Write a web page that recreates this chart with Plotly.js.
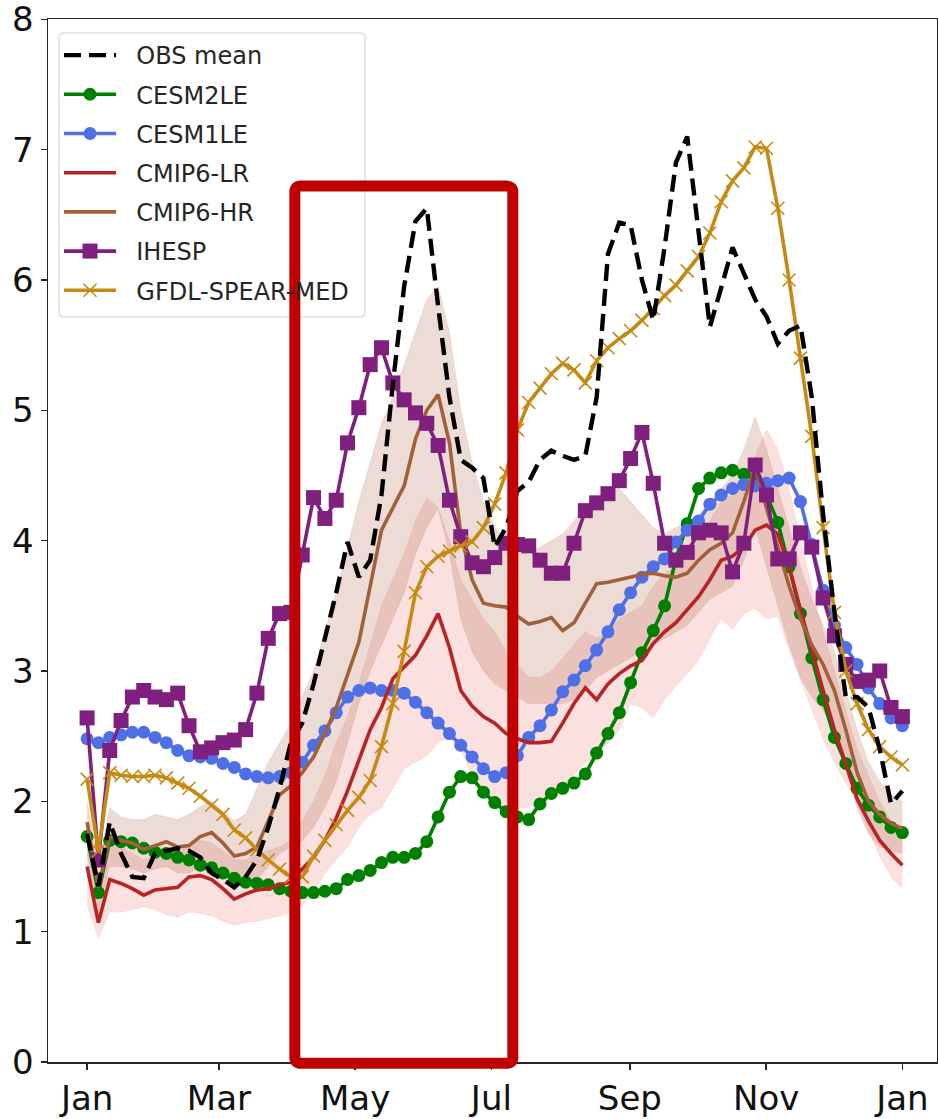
<!DOCTYPE html>
<html>
<head>
<meta charset="utf-8">
<script src="https://cdn.plot.ly/plotly-3.0.1.min.js"></script>
<style>
  html, body { margin: 0; padding: 0; background: #ffffff; }
  #chart { width: 938px; height: 1119px; }
</style>
</head>
<body>
<div id="chart"></div>
<script>
// Month ticks (day of year) and their labels
const monthTickDays = [0, 59, 120, 181, 243, 304, 365];
const monthTickLabels = ['Jan', 'Mar', 'May', 'Jul', 'Sep', 'Nov', 'Jan'];
const valueTicks = [0, 1, 2, 3, 4, 5, 6, 7, 8];

// Pentad climatologies, one value per pentad from Jan to Dec
const obsMean = [1.75, 1.35, 1.84, 1.60, 1.42, 1.41, 1.60, 1.62, 1.64, 1.62,
  1.57, 1.45, 1.40, 1.34, 1.42, 1.55, 1.80, 2.10, 2.45, 2.60,
  2.90, 3.25, 3.60, 3.99, 3.72, 3.85, 4.35, 5.20, 5.95, 6.45,
  6.55, 5.80, 5.10, 4.62, 4.56, 4.48, 3.95, 4.10, 4.38, 4.45,
  4.62, 4.69, 4.65, 4.62, 4.65, 5.10, 6.20, 6.44, 6.42, 6.00,
  5.69, 6.25, 6.90, 7.10, 6.36, 5.64, 5.94, 6.25, 6.05, 5.85,
  5.72, 5.51, 5.61, 5.65, 5.10, 4.20, 3.45, 2.80, 2.80, 2.72,
  2.40, 1.98, 2.08];

const cesm2le = [1.73, 1.30, 1.70, 1.69, 1.68, 1.64, 1.61, 1.60, 1.57, 1.55,
  1.51, 1.49, 1.45, 1.41, 1.38, 1.37, 1.36, 1.33, 1.31, 1.30,
  1.30, 1.31, 1.33, 1.40, 1.43, 1.47, 1.53, 1.57, 1.57, 1.60,
  1.69, 1.88, 2.07, 2.19, 2.18, 2.07, 1.99, 1.92, 1.88, 1.86,
  1.98, 2.06, 2.10, 2.14, 2.21, 2.37, 2.52, 2.68, 2.91, 3.14,
  3.31, 3.50, 3.86, 4.13, 4.40, 4.48, 4.52, 4.54, 4.51, 4.48,
  4.35, 4.14, 3.80, 3.44, 3.10, 2.78, 2.49, 2.29, 2.10, 1.97,
  1.88, 1.80, 1.76];

const cesm1le = [2.48, 2.45, 2.49, 2.51, 2.53, 2.53, 2.49, 2.45, 2.39, 2.35,
  2.34, 2.33, 2.29, 2.26, 2.21, 2.19, 2.18, 2.19, 2.22, 2.30,
  2.43, 2.54, 2.68, 2.80, 2.85, 2.87, 2.85, 2.85, 2.83, 2.76,
  2.68, 2.60, 2.52, 2.43, 2.34, 2.25, 2.19, 2.22, 2.35, 2.49,
  2.58, 2.70, 2.84, 2.93, 3.04, 3.16, 3.30, 3.47, 3.60, 3.72,
  3.80, 3.86, 3.99, 4.08, 4.15, 4.28, 4.35, 4.40, 4.43, 4.42,
  4.44, 4.46, 4.48, 4.30, 3.97, 3.62, 3.35, 3.18, 3.05, 2.87,
  2.75, 2.64, 2.58];

const cmip6Lr = [1.50, 1.07, 1.40, 1.37, 1.33, 1.28, 1.32, 1.33, 1.34, 1.42,
  1.43, 1.40, 1.33, 1.25, 1.29, 1.32, 1.33, 1.36, 1.38, 1.48,
  1.57, 1.70, 1.87, 2.08, 2.32, 2.55, 2.72, 2.94, 3.03, 3.12,
  3.27, 3.44, 3.18, 2.85, 2.73, 2.65, 2.60, 2.52, 2.48, 2.45,
  2.45, 2.46, 2.60, 2.75, 2.87, 2.78, 2.90, 2.98, 3.04, 3.08,
  3.21, 3.30, 3.37, 3.47, 3.57, 3.70, 3.85, 3.88, 3.95, 4.08,
  4.12, 4.05, 3.80, 3.47, 3.15, 2.85, 2.55, 2.28, 2.02, 1.85,
  1.70, 1.60, 1.51];

const cmip6LrLow = [1.20, 0.95, 1.15, 1.15, 1.17, 1.19, 1.17, 1.13, 1.11, 1.15,
  1.14, 1.12, 1.08, 1.05, 1.07, 1.08, 1.10, 1.12, 1.15, 1.20,
  1.30, 1.45, 1.55, 1.65, 1.80, 1.90, 1.95, 2.10, 2.25, 2.30,
  2.35, 2.45, 2.50, 2.40, 2.20, 2.05, 1.97, 1.92, 1.95, 1.95,
  2.00, 2.05, 2.10, 2.20, 2.30, 2.35, 2.45, 2.55, 2.75, 2.72,
  2.64, 2.78, 2.88, 2.98, 3.08, 3.25, 3.40, 3.32, 3.44, 3.48,
  3.40, 3.42, 3.16, 2.93, 2.70, 2.48, 2.30, 2.14, 1.98, 1.78,
  1.58, 1.42, 1.33];

const cmip6LrHigh = [1.80, 1.30, 1.70, 1.65, 1.60, 1.55, 1.58, 1.60, 1.60, 1.68,
  1.70, 1.68, 1.62, 1.55, 1.55, 1.60, 1.62, 1.65, 1.70, 1.85,
  2.00, 2.20, 2.45, 2.65, 2.90, 3.20, 3.50, 3.70, 3.90, 4.15,
  4.33, 4.25, 4.00, 3.70, 3.55, 3.40, 3.30, 3.15, 3.05, 2.95,
  2.95, 3.00, 3.10, 3.20, 3.30, 3.25, 3.30, 3.40, 3.45, 3.50,
  3.65, 3.75, 3.80, 3.90, 4.00, 4.15, 4.30, 4.35, 4.45, 4.65,
  4.85, 4.70, 4.40, 4.00, 3.65, 3.30, 3.00, 2.70, 2.40, 2.20,
  2.00, 1.85, 1.75];

const cmip6Hr = [1.84, 1.34, 1.73, 1.70, 1.68, 1.63, 1.66, 1.69, 1.65, 1.66,
  1.73, 1.76, 1.68, 1.58, 1.60, 1.65, 1.85, 2.05, 2.12, 2.22,
  2.34, 2.52, 2.72, 2.98, 3.22, 3.65, 4.08, 4.25, 4.42, 4.78,
  5.00, 5.12, 4.75, 4.05, 3.70, 3.52, 3.50, 3.49, 3.42, 3.36,
  3.38, 3.41, 3.31, 3.37, 3.52, 3.67, 3.68, 3.70, 3.72, 3.74,
  3.75, 3.73, 3.72, 3.75, 3.85, 3.93, 3.98, 4.06, 4.30, 4.56,
  4.25, 3.95, 3.65, 3.40, 3.20, 3.05, 2.85, 2.55, 2.22, 2.00,
  1.90, 1.83, 1.79];

const cmip6HrLow = [1.60, 1.15, 1.50, 1.50, 1.48, 1.45, 1.48, 1.50, 1.45, 1.45,
  1.50, 1.55, 1.45, 1.35, 1.35, 1.40, 1.50, 1.60, 1.65, 1.70,
  1.80, 1.95, 2.15, 2.45, 2.75, 3.00, 3.20, 3.40, 3.60, 3.90,
  4.10, 4.25, 3.90, 3.40, 3.15, 3.00, 2.90, 2.85, 2.80, 2.75,
  2.75, 2.75, 2.75, 2.78, 2.85, 2.95, 3.00, 3.05, 3.10, 3.15,
  3.20, 3.25, 3.30, 3.35, 3.45, 3.55, 3.60, 3.65, 3.85, 4.10,
  3.80, 3.50, 3.20, 2.95, 2.80, 2.70, 2.55, 2.30, 1.95, 1.75,
  1.65, 1.62, 1.60];

const cmip6HrHigh = [2.00, 1.50, 1.95, 1.88, 1.86, 1.86, 1.90, 1.88, 1.86, 1.90,
  1.96, 2.00, 1.92, 1.85, 1.90, 2.10, 2.30, 2.45, 2.60, 2.80,
  3.00, 3.30, 3.60, 3.95, 4.30, 4.60, 4.90, 5.10, 5.35, 5.60,
  5.85, 5.95, 5.60, 5.00, 4.60, 4.30, 4.10, 4.00, 3.95, 3.90,
  3.95, 4.00, 4.05, 4.15, 4.25, 4.30, 4.35, 4.40, 4.30, 4.20,
  4.10, 4.05, 4.10, 4.15, 4.20, 4.30, 4.40, 4.50, 4.70, 4.95,
  4.70, 4.40, 4.10, 3.80, 3.55, 3.35, 3.15, 2.85, 2.55, 2.30,
  2.15, 2.05, 2.00];

const ihesp = [2.64, 1.55, 2.39, 2.62, 2.80, 2.85, 2.80, 2.78, 2.83, 2.58,
  2.38, 2.41, 2.45, 2.47, 2.55, 2.83, 3.25, 3.44, 3.45, 3.89,
  4.33, 4.17, 4.31, 4.75, 5.02, 5.35, 5.48, 5.21, 5.08, 4.98,
  4.90, 4.73, 4.31, 4.03, 3.83, 3.80, 3.87, 3.98, 3.97, 3.96,
  3.85, 3.75, 3.75, 3.98, 4.23, 4.29, 4.36, 4.46, 4.63, 4.83,
  4.44, 3.98, 3.85, 3.91, 4.06, 4.08, 4.06, 3.76, 3.98, 4.58,
  4.35, 3.86, 3.86, 4.06, 3.95, 3.56, 3.27, 3.05, 2.92, 2.93,
  3.00, 2.72, 2.65];

const gfdlSpearMed = [2.17, 1.62, 2.22, 2.20, 2.19, 2.19, 2.20, 2.18, 2.14, 2.10,
  2.04, 1.97, 1.90, 1.78, 1.72, 1.63, 1.55, 1.48, 1.42, 1.42,
  1.58, 1.70, 1.82, 1.93, 2.03, 2.16, 2.42, 2.75, 3.15, 3.60,
  3.80, 3.88, 3.92, 3.96, 3.99, 4.10, 4.28, 4.52, 4.85, 5.06,
  5.17, 5.28, 5.36, 5.31, 5.21, 5.38, 5.48, 5.55, 5.61, 5.69,
  5.78, 5.88, 5.96, 6.07, 6.18, 6.36, 6.60, 6.76, 6.86, 7.02,
  7.01, 6.55, 6.00, 5.40, 4.80, 4.10, 3.45, 3.00, 2.75, 2.55,
  2.42, 2.34, 2.28];

// Pentads are spread evenly over the year
const nPentads = obsMean.length;
const dayOfYear = obsMean.map((_, i) => i * 365 / (nPentads - 1));

const FONT = 'DejaVu Sans, Liberation Sans, sans-serif';
const X_RANGE = [-17.5, 380.5];
const Y_RANGE = [0, 8.002];
const PLOT_W = 889, PLOT_H = 1043;
const NB = '\u00a0\u00a0';

function band(low, high, fill, name) {
  return [
    { x: dayOfYear, y: low, type: 'scatter', mode: 'lines',
      line: { width: 0.6, color: fill }, showlegend: false, hoverinfo: 'skip', name: name + ' low' },
    { x: dayOfYear, y: high, type: 'scatter', mode: 'lines', fill: 'tonexty',
      fillcolor: fill, line: { width: 0.6, color: fill }, showlegend: false, hoverinfo: 'skip', name: name + ' high' }
  ];
}

const traces = [
  ...band(cmip6LrLow, cmip6LrHigh, 'rgba(225,45,45,0.15)', 'CMIP6-LR'),
  ...band(cmip6HrLow, cmip6HrHigh, 'rgba(160,82,45,0.2)', 'CMIP6-HR'),
  { x: dayOfYear, y: cesm2le, name: NB + 'CESM2LE', type: 'scatter', mode: 'lines+markers',
    line: { color: '#008000', width: 3.6 }, marker: { symbol: 'circle', size: 13, color: '#008000' },
    legendrank: 2, legendgroup: 'g2' },
  { x: dayOfYear, y: cesm1le, name: NB + 'CESM1LE', type: 'scatter', mode: 'lines+markers',
    line: { color: '#4f6fe6', width: 3.6 }, marker: { symbol: 'circle', size: 13, color: '#4f6fe6' },
    legendrank: 3, legendgroup: 'g3' },
  { x: dayOfYear, y: cmip6Lr, name: NB + 'CMIP6-LR', type: 'scatter', mode: 'lines',
    line: { color: '#b82424', width: 3.6 }, legendrank: 4, legendgroup: 'g4' },
  { x: dayOfYear, y: cmip6Hr, name: NB + 'CMIP6-HR', type: 'scatter', mode: 'lines',
    line: { color: '#a0603a', width: 3.6 }, legendrank: 5, legendgroup: 'g5' },
  { x: dayOfYear, y: ihesp, name: NB + 'IHESP', type: 'scatter', mode: 'lines+markers',
    line: { color: '#80207e', width: 3.6 }, marker: { symbol: 'square', size: 15, color: '#80207e' },
    legendrank: 6, legendgroup: 'g6' },
  { x: dayOfYear, y: gfdlSpearMed, name: NB + 'GFDL-SPEAR-MED', type: 'scatter', mode: 'lines+markers',
    line: { color: '#c58a12', width: 3.6 },
    marker: { symbol: 'x-thin', size: 13, color: '#c58a12', line: { width: 1.6, color: '#c58a12' } },
    legendrank: 7, legendgroup: 'g7' },
  { x: dayOfYear, y: obsMean, name: NB + 'OBS mean', type: 'scatter', mode: 'lines',
    line: { color: '#000000', width: 4.4, dash: '17px,8px' }, legendrank: 1, legendgroup: 'g1' }
];

// Conversions from axis units to paper fractions
function px(xv) { return (xv - X_RANGE[0]) / (X_RANGE[1] - X_RANGE[0]); }
function py(yv) { return (yv - Y_RANGE[0]) / (Y_RANGE[1] - Y_RANGE[0]); }

function roundedRect(L, R, B, T, radiusPx) {
  const rx = radiusPx / PLOT_W, ry = radiusPx / PLOT_H;
  return `M${L},${T - ry} Q${L},${T} ${L + rx},${T} L${R - rx},${T} Q${R},${T} ${R},${T - ry} ` +
         `L${R},${B + ry} Q${R},${B} ${R - rx},${B} L${L + rx},${B} Q${L},${B} ${L},${B + ry} Z`;
}

// Highlight frame around May-Jul, given in axis units
const frameX = [93, 190.6];
const frameY = [-0.01, 6.72];

// Legend panel, in paper fractions
const legendBox = { left: 0.0124, right: 0.3566, bottom: 0.7143, top: 0.9866 };

const axisStyle = {
  showgrid: false, zeroline: false, showline: true, mirror: true,
  linecolor: '#262626', linewidth: 1.5,
  ticks: 'outside', ticklen: 6, tickwidth: 1.5, tickcolor: '#262626',
  ticklabeloverflow: 'allow',
  tickfont: { family: FONT, size: 34, color: '#111111' }
};

const layout = {
  width: 938, height: 1119,
  margin: { l: 48, r: 1, t: 19, b: 57, pad: 0 },
  paper_bgcolor: '#ffffff', plot_bgcolor: '#ffffff',
  showlegend: true,
  legend: {
    x: legendBox.left, y: legendBox.top, xanchor: 'left', yanchor: 'top',
    bgcolor: 'rgba(0,0,0,0)', borderwidth: 0,
    font: { family: FONT, size: 24, color: '#262626' },
    traceorder: 'grouped', tracegroupgap: 5, itemwidth: 52
  },
  xaxis: Object.assign({}, axisStyle, {
    range: X_RANGE, tickmode: 'array', tickvals: monthTickDays, ticktext: monthTickLabels
  }),
  yaxis: Object.assign({}, axisStyle, { range: Y_RANGE, tickmode: 'array', tickvals: valueTicks }),
  shapes: [
    {
      type: 'path', xref: 'paper', yref: 'paper',
      path: roundedRect(legendBox.left, legendBox.right, legendBox.bottom, legendBox.top, 5),
      line: { color: '#d2d2d2', width: 1.2 }, fillcolor: 'rgba(255,255,255,0.82)', layer: 'above'
    },
    {
      type: 'path', xref: 'paper', yref: 'paper',
      path: roundedRect(px(frameX[0]), px(frameX[1]), py(frameY[0]), py(frameY[1]), 6),
      line: { color: '#c00000', width: 11 }, fillcolor: 'rgba(0,0,0,0)', layer: 'above'
    }
  ]
};

Plotly.newPlot('chart', traces, layout, { staticPlot: true, displayModeBar: false });
</script>
</body>
</html>
